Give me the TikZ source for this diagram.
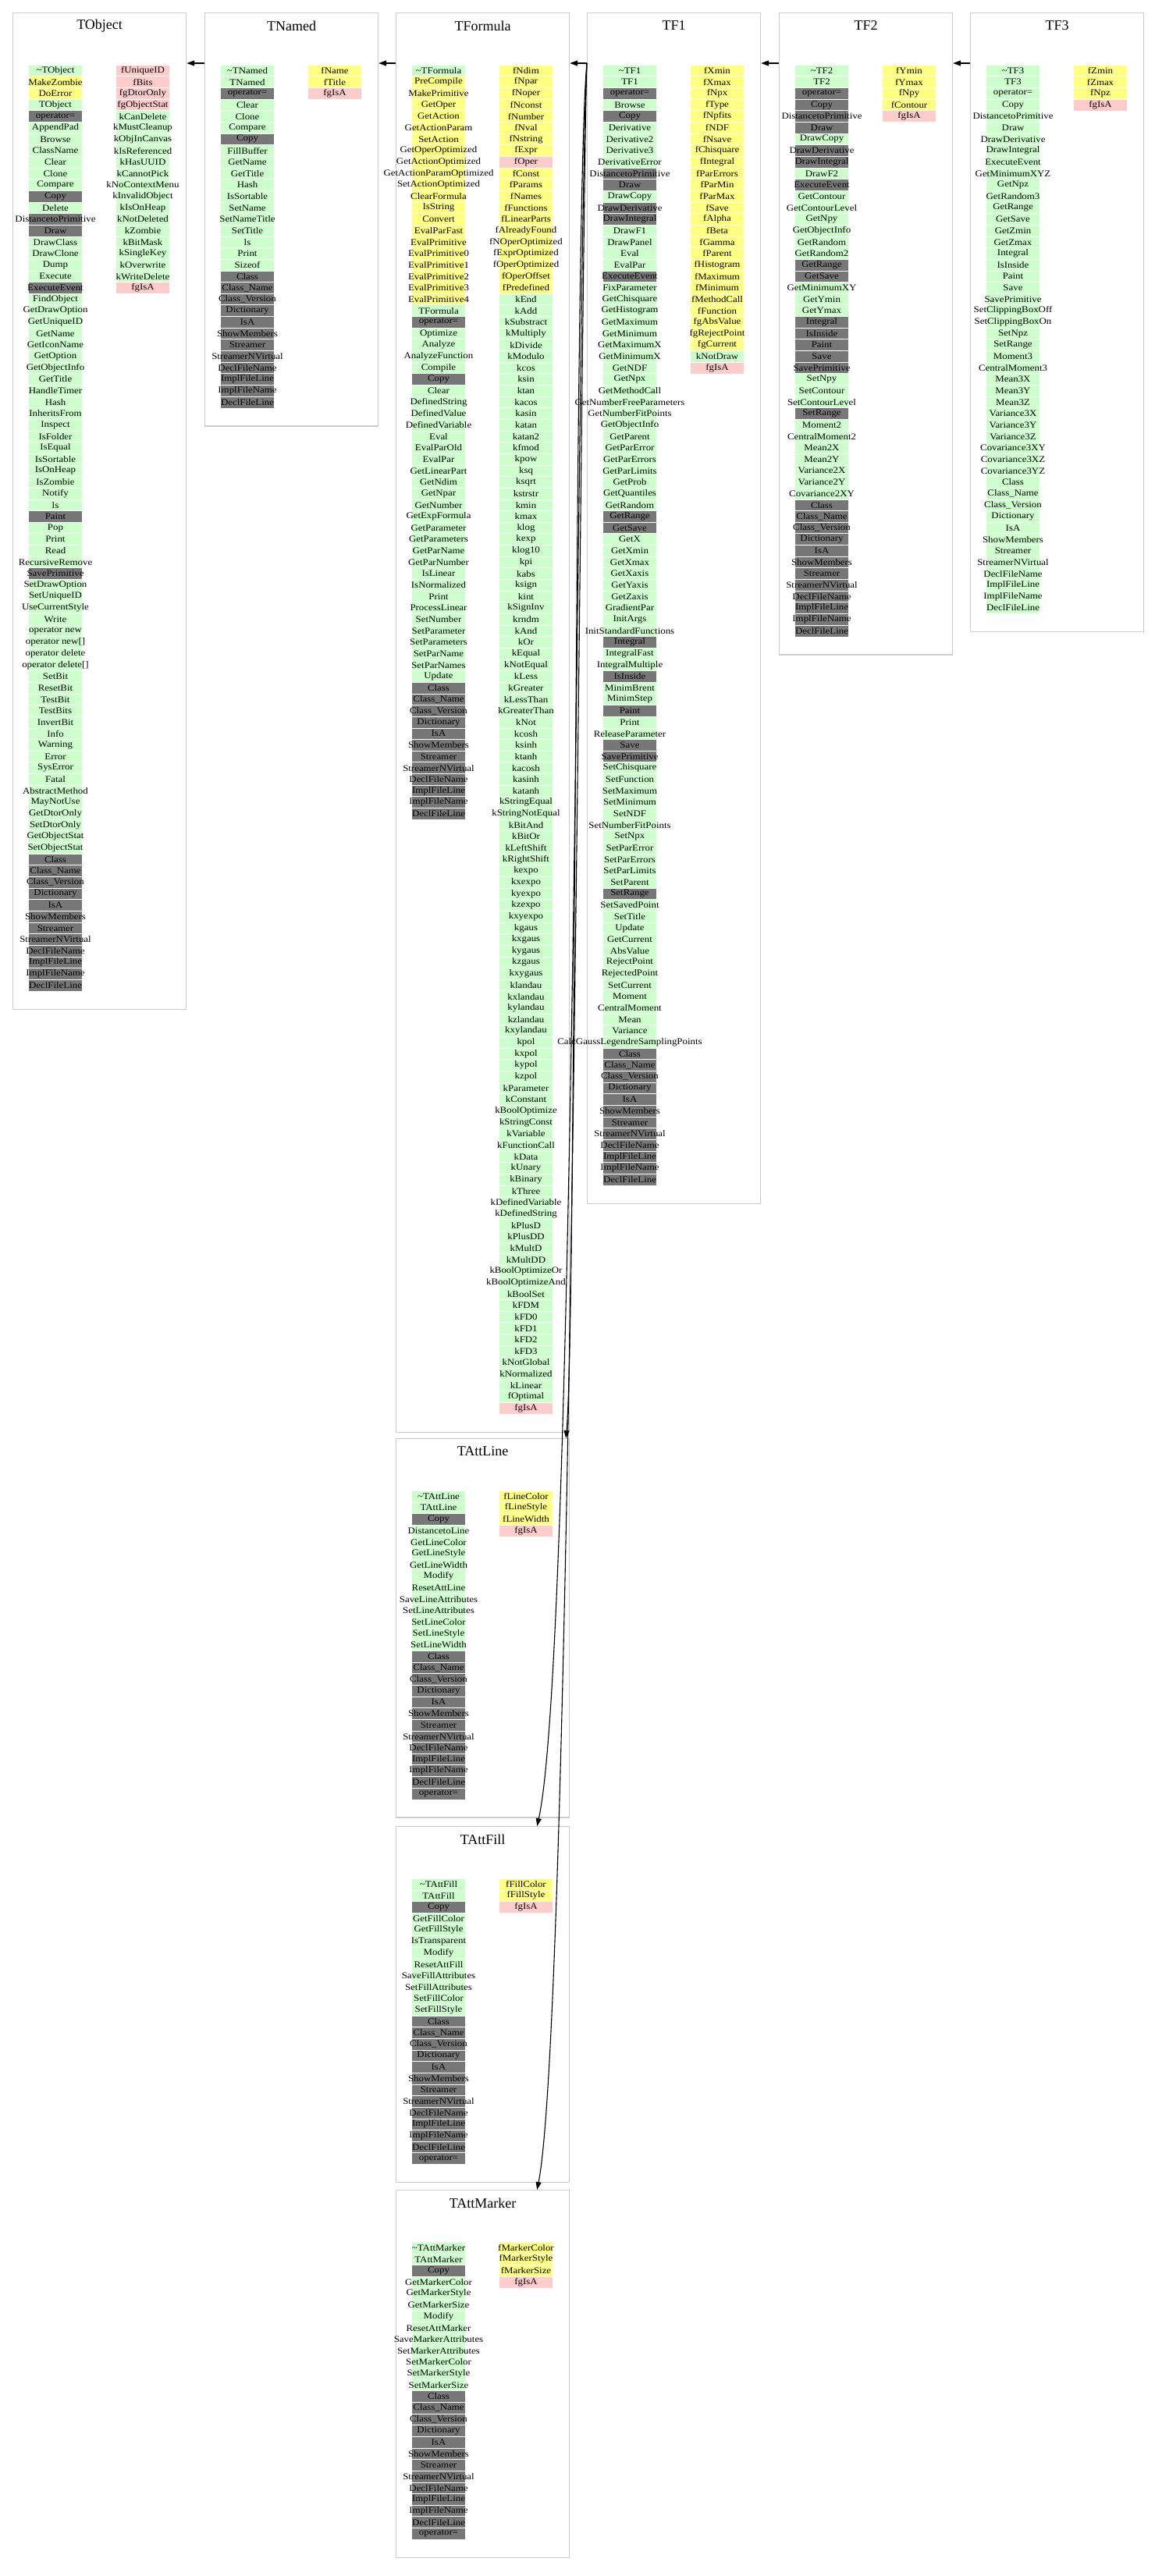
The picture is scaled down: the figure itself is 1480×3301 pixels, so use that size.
\documentclass[tikz,border=0pt]{standalone}
\usepackage{fontspec}
\setmainfont{Liberation Serif}
\newfontfamily\rowfont[FakeStretch=1.12]{Liberation Serif}
\usetikzlibrary{arrows.meta,calc}
\definecolor{colg}{HTML}{CCFFCC}
\definecolor{coly}{HTML}{FFFF80}
\definecolor{colp}{HTML}{FFCCCC}
\definecolor{cold}{HTML}{777777}
\definecolor{boxline}{HTML}{CCCCCC}
\tikzset{
  classbox/.style={draw=boxline, line width=1.2pt, minimum width=222pt, inner sep=0pt},
  titletext/.style={font=\fontsize{18}{20}\selectfont, inner sep=0pt},
  rowtext/.style={font=\rowfont\fontsize{11.5}{12}\selectfont, inner sep=0pt},
  rowsep/.style={white, line width=0.7pt},
  inh/.style={draw=black, line width=1.1pt, -{Triangle[length=10pt,width=7pt]}},
}
% #1 name, #2 x, #3 top, #4 rows, #5 left list, #6 right list
\newcommand\umlclass[6]{%
  \pgfmathsetmacro\hh{104.5+(#4-1)*14.65}
  \node[classbox, minimum height=\hh pt, anchor=north west] (#1) at (#2,#3) {};
  \node[titletext] (#1-title) at ($(#1.north)+(0,17)$) {#1};
  \foreach \rc/\rt [count=\i from 0] in {#5} {
    \pgfmathsetmacro\yy{#3+74.5+\i*14.65}
    \fill[col\rc] (#2+21,\yy-7.325) rectangle ++(68,14.65);
    \draw[rowsep] (#2+21,\yy-7.325) -- ++(68,0);
    \node[rowtext] (#1-l\i) at (#2+55,\yy) {\rt};
  }
  \foreach \rc/\rt [count=\i from 0] in {#6} {
    \pgfmathsetmacro\yy{#3+74.5+\i*14.65}
    \fill[col\rc] (#2+133,\yy-7.325) rectangle ++(68,14.65);
    \draw[rowsep] (#2+133,\yy-7.325) -- ++(68,0);
    \node[rowtext] (#1-r\i) at (#2+167,\yy) {\rt};
  }
}
\begin{document}
\begin{tikzpicture}[x=1pt,y=-1pt]
\fill[white] (0,0) rectangle (1480,3301);
\useasboundingbox (0,0) rectangle (1480,3301);

\umlclass{TObject}{16}{16}{81}{g/\textasciitilde TObject, y/MakeZombie, y/DoError, g/TObject, d/operator=, g/AppendPad, g/Browse, g/ClassName, g/Clear, g/Clone, g/Compare, d/Copy, g/Delete, d/DistancetoPrimitive, d/Draw, g/DrawClass, g/DrawClone, g/Dump, g/Execute, d/ExecuteEvent, g/FindObject, g/GetDrawOption, g/GetUniqueID, g/GetName, g/GetIconName, g/GetOption, g/GetObjectInfo, g/GetTitle, g/HandleTimer, g/Hash, g/InheritsFrom, g/Inspect, g/IsFolder, g/IsEqual, g/IsSortable, g/IsOnHeap, g/IsZombie, g/Notify, g/ls, d/Paint, g/Pop, g/Print, g/Read, g/RecursiveRemove, d/SavePrimitive, g/SetDrawOption, g/SetUniqueID, g/UseCurrentStyle, g/Write, g/operator new, g/operator new[], g/operator delete, g/operator delete[], g/SetBit, g/ResetBit, g/TestBit, g/TestBits, g/InvertBit, g/Info, g/Warning, g/Error, g/SysError, g/Fatal, g/AbstractMethod, g/MayNotUse, g/GetDtorOnly, g/SetDtorOnly, g/GetObjectStat, g/SetObjectStat, d/Class, d/Class\_Name, d/Class\_Version, d/Dictionary, d/IsA, d/ShowMembers, d/Streamer, d/StreamerNVirtual, d/DeclFileName, d/ImplFileLine, d/ImplFileName, d/DeclFileLine}{p/fUniqueID, p/fBits, p/fgDtorOnly, p/fgObjectStat, g/kCanDelete, g/kMustCleanup, g/kObjInCanvas, g/kIsReferenced, g/kHasUUID, g/kCannotPick, g/kNoContextMenu, g/kInvalidObject, g/kIsOnHeap, g/kNotDeleted, g/kZombie, g/kBitMask, g/kSingleKey, g/kOverwrite, g/kWriteDelete, p/fgIsA}

\umlclass{TNamed}{262}{16}{30}{g/\textasciitilde TNamed, g/TNamed, d/operator=, g/Clear, g/Clone, g/Compare, d/Copy, g/FillBuffer, g/GetName, g/GetTitle, g/Hash, g/IsSortable, g/SetName, g/SetNameTitle, g/SetTitle, g/ls, g/Print, g/Sizeof, d/Class, d/Class\_Name, d/Class\_Version, d/Dictionary, d/IsA, d/ShowMembers, d/Streamer, d/StreamerNVirtual, d/DeclFileName, d/ImplFileLine, d/ImplFileName, d/DeclFileLine}{y/fName, y/fTitle, p/fgIsA}

\umlclass{TFormula}{507}{16}{118}{g/\textasciitilde TFormula, y/PreCompile, y/MakePrimitive, y/GetOper, y/GetAction, y/GetActionParam, y/SetAction, y/GetOperOptimized, y/GetActionOptimized, y/GetActionParamOptimized, y/SetActionOptimized, y/ClearFormula, y/IsString, y/Convert, y/EvalParFast, y/EvalPrimitive, y/EvalPrimitive0, y/EvalPrimitive1, y/EvalPrimitive2, y/EvalPrimitive3, y/EvalPrimitive4, g/TFormula, d/operator=, g/Optimize, g/Analyze, g/AnalyzeFunction, g/Compile, d/Copy, g/Clear, g/DefinedString, g/DefinedValue, g/DefinedVariable, g/Eval, g/EvalParOld, g/EvalPar, g/GetLinearPart, g/GetNdim, g/GetNpar, g/GetNumber, g/GetExpFormula, g/GetParameter, g/GetParameters, g/GetParName, g/GetParNumber, g/IsLinear, g/IsNormalized, g/Print, g/ProcessLinear, g/SetNumber, g/SetParameter, g/SetParameters, g/SetParName, g/SetParNames, g/Update, d/Class, d/Class\_Name, d/Class\_Version, d/Dictionary, d/IsA, d/ShowMembers, d/Streamer, d/StreamerNVirtual, d/DeclFileName, d/ImplFileLine, d/ImplFileName, d/DeclFileLine}{y/fNdim, y/fNpar, y/fNoper, y/fNconst, y/fNumber, y/fNval, y/fNstring, y/fExpr, p/fOper, y/fConst, y/fParams, y/fNames, y/fFunctions, y/fLinearParts, y/fAlreadyFound, y/fNOperOptimized, y/fExprOptimized, y/fOperOptimized, y/fOperOffset, y/fPredefined, g/kEnd, g/kAdd, g/kSubstract, g/kMultiply, g/kDivide, g/kModulo, g/kcos, g/ksin, g/ktan, g/kacos, g/kasin, g/katan, g/katan2, g/kfmod, g/kpow, g/ksq, g/ksqrt, g/kstrstr, g/kmin, g/kmax, g/klog, g/kexp, g/klog10, g/kpi, g/kabs, g/ksign, g/kint, g/kSignInv, g/krndm, g/kAnd, g/kOr, g/kEqual, g/kNotEqual, g/kLess, g/kGreater, g/kLessThan, g/kGreaterThan, g/kNot, g/kcosh, g/ksinh, g/ktanh, g/kacosh, g/kasinh, g/katanh, g/kStringEqual, g/kStringNotEqual, g/kBitAnd, g/kBitOr, g/kLeftShift, g/kRightShift, g/kexpo, g/kxexpo, g/kyexpo, g/kzexpo, g/kxyexpo, g/kgaus, g/kxgaus, g/kygaus, g/kzgaus, g/kxygaus, g/klandau, g/kxlandau, g/kylandau, g/kzlandau, g/kxylandau, g/kpol, g/kxpol, g/kypol, g/kzpol, g/kParameter, g/kConstant, g/kBoolOptimize, g/kStringConst, g/kVariable, g/kFunctionCall, g/kData, g/kUnary, g/kBinary, g/kThree, g/kDefinedVariable, g/kDefinedString, g/kPlusD, g/kPlusDD, g/kMultD, g/kMultDD, g/kBoolOptimizeOr, g/kBoolOptimizeAnd, g/kBoolSet, g/kFDM, g/kFD0, g/kFD1, g/kFD2, g/kFD3, g/kNotGlobal, g/kNormalized, g/kLinear, g/fOptimal, p/fgIsA}

\umlclass{TF1}{752}{16}{98}{g/\textasciitilde TF1, g/TF1, d/operator=, g/Browse, d/Copy, g/Derivative, g/Derivative2, g/Derivative3, g/DerivativeError, d/DistancetoPrimitive, d/Draw, g/DrawCopy, d/DrawDerivative, d/DrawIntegral, g/DrawF1, g/DrawPanel, g/Eval, g/EvalPar, d/ExecuteEvent, g/FixParameter, g/GetChisquare, g/GetHistogram, g/GetMaximum, g/GetMinimum, g/GetMaximumX, g/GetMinimumX, g/GetNDF, g/GetNpx, g/GetMethodCall, g/GetNumberFreeParameters, g/GetNumberFitPoints, g/GetObjectInfo, g/GetParent, g/GetParError, g/GetParErrors, g/GetParLimits, g/GetProb, g/GetQuantiles, g/GetRandom, d/GetRange, d/GetSave, g/GetX, g/GetXmin, g/GetXmax, g/GetXaxis, g/GetYaxis, g/GetZaxis, g/GradientPar, g/InitArgs, g/InitStandardFunctions, d/Integral, g/IntegralFast, g/IntegralMultiple, d/IsInside, g/MinimBrent, g/MinimStep, d/Paint, g/Print, g/ReleaseParameter, d/Save, d/SavePrimitive, g/SetChisquare, g/SetFunction, g/SetMaximum, g/SetMinimum, g/SetNDF, g/SetNumberFitPoints, g/SetNpx, g/SetParError, g/SetParErrors, g/SetParLimits, g/SetParent, d/SetRange, g/SetSavedPoint, g/SetTitle, g/Update, g/GetCurrent, g/AbsValue, g/RejectPoint, g/RejectedPoint, g/SetCurrent, g/Moment, g/CentralMoment, g/Mean, g/Variance, g/CalcGaussLegendreSamplingPoints, d/Class, d/Class\_Name, d/Class\_Version, d/Dictionary, d/IsA, d/ShowMembers, d/Streamer, d/StreamerNVirtual, d/DeclFileName, d/ImplFileLine, d/ImplFileName, d/DeclFileLine}{y/fXmin, y/fXmax, y/fNpx, y/fType, y/fNpfits, y/fNDF, y/fNsave, y/fChisquare, y/fIntegral, y/fParErrors, y/fParMin, y/fParMax, y/fSave, y/fAlpha, y/fBeta, y/fGamma, y/fParent, y/fHistogram, y/fMaximum, y/fMinimum, y/fMethodCall, y/fFunction, y/fgAbsValue, y/fgRejectPoint, y/fgCurrent, g/kNotDraw, p/fgIsA}

\umlclass{TF2}{998}{16}{50}{g/\textasciitilde TF2, g/TF2, d/operator=, d/Copy, d/DistancetoPrimitive, d/Draw, g/DrawCopy, d/DrawDerivative, d/DrawIntegral, g/DrawF2, d/ExecuteEvent, g/GetContour, g/GetContourLevel, g/GetNpy, g/GetObjectInfo, g/GetRandom, g/GetRandom2, d/GetRange, d/GetSave, g/GetMinimumXY, g/GetYmin, g/GetYmax, d/Integral, d/IsInside, d/Paint, d/Save, d/SavePrimitive, g/SetNpy, g/SetContour, g/SetContourLevel, d/SetRange, g/Moment2, g/CentralMoment2, g/Mean2X, g/Mean2Y, g/Variance2X, g/Variance2Y, g/Covariance2XY, d/Class, d/Class\_Name, d/Class\_Version, d/Dictionary, d/IsA, d/ShowMembers, d/Streamer, d/StreamerNVirtual, d/DeclFileName, d/ImplFileLine, d/ImplFileName, d/DeclFileLine}{y/fYmin, y/fYmax, y/fNpy, y/fContour, p/fgIsA}

\umlclass{TF3}{1243}{16}{48}{g/\textasciitilde TF3, g/TF3, g/operator=, g/Copy, g/DistancetoPrimitive, g/Draw, g/DrawDerivative, g/DrawIntegral, g/ExecuteEvent, g/GetMinimumXYZ, g/GetNpz, g/GetRandom3, g/GetRange, g/GetSave, g/GetZmin, g/GetZmax, g/Integral, g/IsInside, g/Paint, g/Save, g/SavePrimitive, g/SetClippingBoxOff, g/SetClippingBoxOn, g/SetNpz, g/SetRange, g/Moment3, g/CentralMoment3, g/Mean3X, g/Mean3Y, g/Mean3Z, g/Variance3X, g/Variance3Y, g/Variance3Z, g/Covariance3XY, g/Covariance3XZ, g/Covariance3YZ, g/Class, g/Class\_Name, g/Class\_Version, g/Dictionary, g/IsA, g/ShowMembers, g/Streamer, g/StreamerNVirtual, g/DeclFileName, g/ImplFileLine, g/ImplFileName, g/DeclFileLine}{y/fZmin, y/fZmax, y/fNpz, p/fgIsA}

\umlclass{TAttLine}{507}{1843}{27}{g/\textasciitilde TAttLine, g/TAttLine, d/Copy, g/DistancetoLine, g/GetLineColor, g/GetLineStyle, g/GetLineWidth, g/Modify, g/ResetAttLine, g/SaveLineAttributes, g/SetLineAttributes, g/SetLineColor, g/SetLineStyle, g/SetLineWidth, d/Class, d/Class\_Name, d/Class\_Version, d/Dictionary, d/IsA, d/ShowMembers, d/Streamer, d/StreamerNVirtual, d/DeclFileName, d/ImplFileLine, d/ImplFileName, d/DeclFileLine, d/operator=}{y/fLineColor, y/fLineStyle, y/fLineWidth, p/fgIsA}

\umlclass{TAttFill}{507}{2340}{25}{g/\textasciitilde TAttFill, g/TAttFill, d/Copy, g/GetFillColor, g/GetFillStyle, g/IsTransparent, g/Modify, g/ResetAttFill, g/SaveFillAttributes, g/SetFillAttributes, g/SetFillColor, g/SetFillStyle, d/Class, d/Class\_Name, d/Class\_Version, d/Dictionary, d/IsA, d/ShowMembers, d/Streamer, d/StreamerNVirtual, d/DeclFileName, d/ImplFileLine, d/ImplFileName, d/DeclFileLine, d/operator=}{y/fFillColor, y/fFillStyle, p/fgIsA}

\umlclass{TAttMarker}{507}{2806}{26}{g/\textasciitilde TAttMarker, g/TAttMarker, d/Copy, g/GetMarkerColor, g/GetMarkerStyle, g/GetMarkerSize, g/Modify, g/ResetAttMarker, g/SaveMarkerAttributes, g/SetMarkerAttributes, g/SetMarkerColor, g/SetMarkerStyle, g/SetMarkerSize, d/Class, d/Class\_Name, d/Class\_Version, d/Dictionary, d/IsA, d/ShowMembers, d/Streamer, d/StreamerNVirtual, d/DeclFileName, d/ImplFileLine, d/ImplFileName, d/DeclFileLine, d/operator=}{y/fMarkerColor, y/fMarkerStyle, y/fMarkerSize, p/fgIsA}

\coordinate (ay) at (0,81);
\draw[inh] (TNamed.west |- ay) -- (TObject.east |- ay);
\draw[inh] (TFormula.west |- ay) -- (TNamed.east |- ay);
\draw[inh] (TF1.west |- ay) -- (TFormula.east |- ay);
\draw[inh] (TF2.west |- ay) -- (TF1.east |- ay);
\draw[inh] (TF3.west |- ay) -- (TF2.east |- ay);
\draw[inh] (TF1.west |- ay) .. controls (736,250) and (738,1700) .. ($(TAttLine.north east)+(-5,0)$);
\draw[inh] (TF1.west |- ay) .. controls (740,300) and (737,2120) .. ($(TAttFill.north east)+(-42,0)$);
\draw[inh] (TF1.west |- ay) .. controls (744,320) and (733,2580) .. ($(TAttMarker.north east)+(-42,0)$);
\end{tikzpicture}
\end{document}
